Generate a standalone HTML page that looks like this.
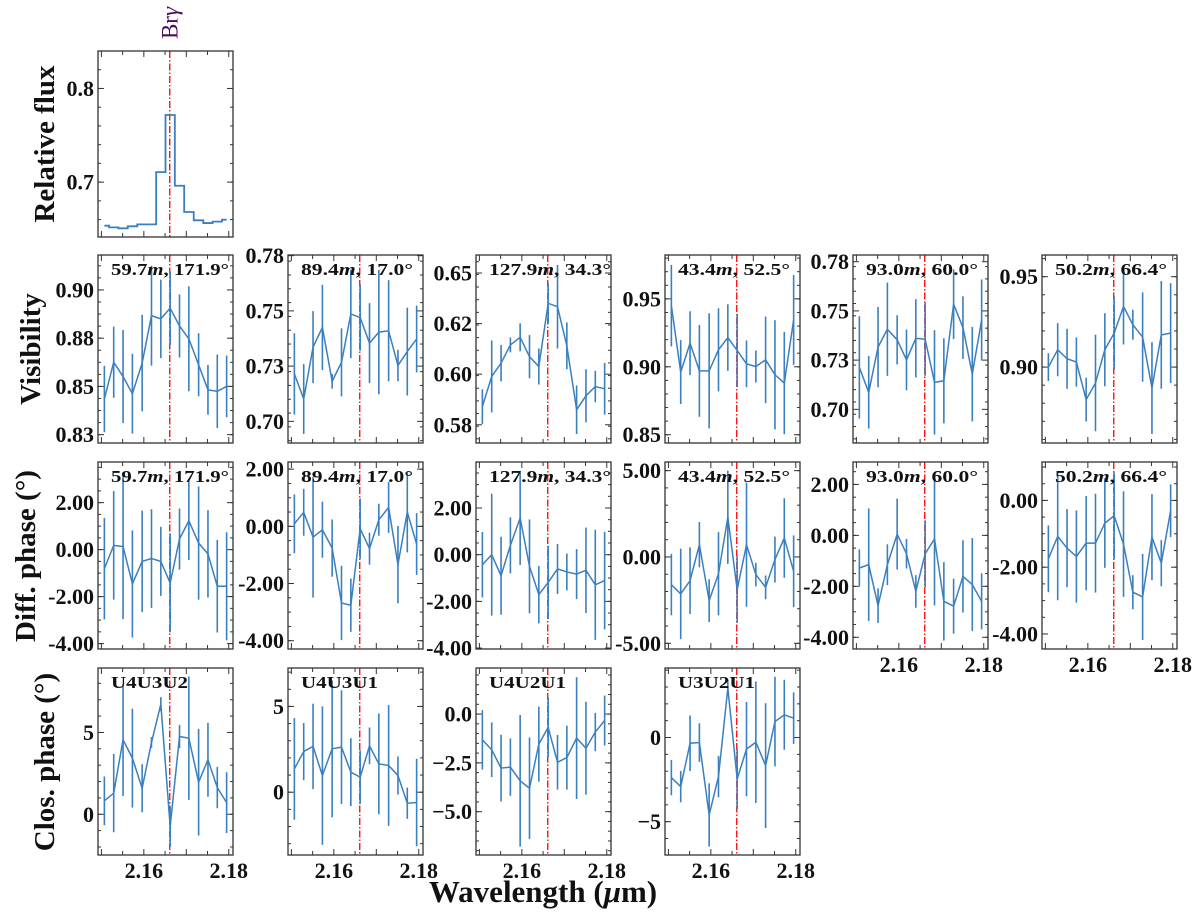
<!DOCTYPE html>
<html><head><meta charset="utf-8"><style>
html,body{margin:0;padding:0;background:#fff;}
svg{display:block;font-family:"Liberation Serif","DejaVu Serif",serif;}
</style></head><body>
<svg id="fig" width="1200" height="913" viewBox="0 0 1200 913" xmlns="http://www.w3.org/2000/svg"></svg>
<script>
const wavelength = [2.1507,2.1529,2.1551,2.1573,2.1596,2.1618,2.1640,2.1662,2.1684,2.1706,2.1729,2.1751,2.1773,2.1795];
const fluxValues = [0.6535,0.6517,0.6507,0.6528,0.6549,0.6549,0.7107,0.7717,0.6961,0.6681,0.6592,0.6563,0.6578,0.6599];

const baselineLengths = ['59.7','89.4','127.9','43.4','93.0','50.2'];
const baselineAngles = ['171.9','17.0','34.3','52.5','60.0','66.4'];
const triangleNames = ['U4U3U2','U4U3U1','U4U2U1','U3U2U1'];

const visValues = [
 [0.8491,0.8663,0.8596,0.8516,0.8659,0.8880,0.8865,0.8915,0.8832,0.8772,0.8651,0.8534,0.8527,0.8550],
 [0.7240,0.7126,0.7361,0.7450,0.7206,0.7292,0.7511,0.7495,0.7379,0.7429,0.7435,0.7278,0.7341,0.7398],
 [0.5881,0.6015,0.6074,0.6155,0.6189,0.6103,0.6059,0.6340,0.6325,0.6151,0.5867,0.5929,0.5970,0.5960],
 [0.945,0.8961,0.9174,0.897,0.897,0.9125,0.9215,0.912,0.9022,0.9002,0.9051,0.8941,0.888,0.9345],
 [0.7238,0.7111,0.7341,0.7432,0.7378,0.7276,0.7386,0.7381,0.7162,0.7170,0.7559,0.7440,0.7204,0.7479],
 [0.9000,0.9096,0.9046,0.9028,0.8820,0.8912,0.9096,0.9188,0.9335,0.9234,0.9166,0.8884,0.9178,0.9188]
];
const visErrors = [
 [0.0155,0.0166,0.0217,0.0186,0.0225,0.0233,0.0183,0.0171,0.0147,0.0245,0.0147,0.0116,0.0171,0.0144],
 [0.0184,0.0158,0.0163,0.0193,0.0033,0.0154,0.0200,0.0150,0.0181,0.0282,0.0229,0.0071,0.0199,0.0151],
 [0.0077,0.0160,0.0081,0.0033,0.0062,0.0096,0.0080,0.0089,0.0186,0.0104,0.0108,0.0118,0.0070,0.0115],
 [0.030,0.0235,0.0235,0.0338,0.0424,0.0306,0.0245,0.027,0.0172,0.0118,0.0319,0.0402,0.0377,0.0331],
 [0.0260,0.0184,0.0204,0.0237,0.0125,0.0154,0.0199,0.0186,0.0265,0.0216,0.0177,0.0159,0.0240,0.0206],
 [0.0077,0.0147,0.0166,0.0136,0.0121,0.0267,0.0202,0.0202,0.0210,0.0083,0.0247,0.0254,0.0298,0.0276]
];
const dpValues = [
 [-0.81,0.18,0.13,-1.46,-0.50,-0.38,-0.50,-1.42,0.45,1.23,0.28,-0.18,-1.56,-1.56],
 [0.09,0.49,-0.38,-0.12,-0.76,-2.68,-2.76,-0.08,-0.78,0.23,0.66,-1.34,0.50,-0.62],
 [-0.43,0.00,-0.90,0.40,1.57,-0.50,-1.71,-1.19,-0.61,-0.74,-0.83,-0.67,-1.29,-1.11],
 [-1.60,-2.14,-1.37,0.71,-2.53,-0.97,2.30,-1.89,0.71,-1.02,-1.76,-0.15,1.10,-0.83],
 [-1.28,-1.15,-2.76,-1.15,0.05,-0.72,-2.20,-0.72,-0.14,-2.59,-2.78,-1.61,-1.93,-2.59],
 [-1.75,-1.08,-1.43,-1.68,-1.28,-1.28,-0.68,-0.46,-1.31,-2.75,-2.89,-1.10,-1.88,-0.31]
];
const dpErrors = [
 [2.16,2.31,3.09,2.28,2.16,2.10,1.47,2.10,1.30,1.67,2.41,1.86,1.97,2.30],
 [1.03,0.82,2.11,0.98,1.00,1.30,0.93,1.05,0.56,0.56,0.89,1.35,1.41,1.08],
 [1.40,2.61,1.67,1.20,2.01,2.01,1.23,1.57,1.07,0.79,1.07,1.83,2.36,2.09],
 [1.78,2.62,1.93,1.31,1.24,2.41,2.70,1.93,3.59,0.69,0.69,1.33,2.30,2.08],
 [0.73,2.21,0.68,0.80,1.39,0.58,0.64,1.31,2.61,1.54,1.08,1.42,1.82,1.10],
 [1.00,1.91,1.17,1.38,1.41,1.48,1.34,1.30,1.58,0.51,1.29,1.29,0.69,0.79]
];
const cpValues = [
 [0.82,1.29,4.55,3.43,1.59,4.39,6.73,-0.75,4.75,4.65,1.96,3.33,1.63,0.71],
 [1.36,2.37,2.67,0.97,2.53,2.63,1.17,0.88,2.70,1.65,1.56,0.97,-0.64,-0.60],
 [-1.32,-1.83,-2.77,-2.72,-3.42,-3.80,-1.54,-0.68,-2.47,-2.23,-1.23,-1.75,-0.92,-0.33],
 [-2.38,-2.92,-0.34,-0.30,-4.60,-2.32,2.94,-2.46,-0.69,-0.28,-1.67,0.95,1.35,1.15]
];
const cpErrors = [
 [1.49,2.39,3.43,3.02,1.47,0.33,0.43,1.22,0.71,3.77,3.26,2.26,1.26,1.86],
 [2.96,1.67,2.49,4.03,3.99,3.31,1.98,1.56,1.07,2.94,3.52,1.11,0.91,2.55],
 [1.52,1.40,1.71,1.47,3.37,2.60,1.92,1.54,1.40,1.64,3.12,2.38,0.98,1.28],
 [1.05,0.93,1.65,1.15,1.88,1.23,0.50,1.79,2.80,3.61,3.71,2.66,2.08,1.53]
];

const brGamma = 2.1661;
const xDomain = [2.1492, 2.1810];
const xTickValues = [2.16, 2.18];
const xTickLabels = ['2.16', '2.18'];

const fluxDomain = [0.6414, 0.840];
const fluxTickValues = [0.7, 0.8];
const fluxTickLabels = ['0.7', '0.8'];

const visDomains = [[0.8286,0.9163],[0.6927,0.7778],[0.5719,0.6555],[0.8439,0.9823],[0.6854,0.7809],[0.858,0.962]];
const visTickValues = [[0.8325,0.855,0.8775,0.9],[0.7025,0.7275,0.7525,0.7775],[0.58,0.6025,0.625,0.6475],[0.85,0.9,0.95],[0.7025,0.7275,0.7525,0.7775],[0.9,0.95]];
const visTickLabels = [['0.83','0.85','0.88','0.90'],['0.70','0.73','0.75','0.78'],['0.58','0.60','0.62','0.65'],['0.85','0.90','0.95'],['0.70','0.73','0.75','0.78'],['0.90','0.95']];

const dpDomains = [[-4.23,3.73],[-4.29,2.25],[-4.04,3.97],[-5.33,5.50],[-4.46,2.88],[-4.45,1.15]];
const dpTickValues = [[-4,-2,0,2],[-4,-2,0,2],[-4,-2,0,2],[-5,0,5],[-4,-2,0,2],[-4,-2,0]];
const dpTickLabels = [['-4.00','-2.00','0.00','2.00'],['-4.00','-2.00','0.00','2.00'],['-4.00','-2.00','0.00','2.00'],['-5.00','0.00','5.00'],['-4.00','-2.00','0.00','2.00'],['-4.00','-2.00','0.00']];

const cpDomains = [[-2.49,8.94],[-3.66,7.24],[-7.22,2.36],[-6.98,4.13]];
const cpTickValues = [[0,5],[0,5],[-5,-2.5,0],[-5,0]];
const cpTickLabels = [['0','5'],['0','5'],['\u22125.0','\u22122.5','0.0'],['\u22125','0']];

const NS = 'http://www.w3.org/2000/svg';
const svg = document.getElementById('fig');
const colLeft = [98, 288, 476, 665, 853, 1042];
const PW = 135;
const BLUE = '#3a7fbf';

function mk(tag, attrs, parent) {
  const e = document.createElementNS(NS, tag);
  for (const k in attrs) e.setAttribute(k, attrs[k]);
  (parent || svg).appendChild(e);
  return e;
}

function panel(name, left, top, height, yDom, yTicks, yLabels, minorStep, showX) {
  const g = mk('g', {});
  
  
  const right = left + PW, bottom = top + height;
  const sx = v => left + (v - xDomain[0]) / (xDomain[1] - xDomain[0]) * PW;
  const sy = v => bottom - (v - yDom[0]) / (yDom[1] - yDom[0]) * height;
  const tk = mk('g', {stroke: '#333', 'stroke-width': 1}, g);
  
  
  for (let v = 2.150; v <= xDomain[1] + 1e-9; v += 0.005) {
    const x = sx(v); const major = Math.abs(((v * 100) % 1)) < 0.01 || Math.abs(((v * 100) % 1) - 1) < 0.01;
    const L = major ? 6 : 4;
    mk('line', {x1: x, x2: x, y1: bottom, y2: bottom - L}, tk);
    mk('line', {x1: x, x2: x, y1: top, y2: top + L}, tk);
  }
  const start = Math.ceil(yDom[0] / minorStep) * minorStep;
  for (let v = start; v <= yDom[1]; v += minorStep) {
    const y = sy(v);
    mk('line', {x1: left, x2: left + 3, y1: y, y2: y}, tk);
    mk('line', {x1: right, x2: right - 3, y1: y, y2: y}, tk);
  }
  yTicks.forEach((v, i) => {
    const y = sy(v);
    if (y < top - 0.5 || y > bottom + 0.5) return;
    mk('line', {x1: left, x2: left + 6, y1: y, y2: y}, tk);
    mk('line', {x1: right, x2: right - 6, y1: y, y2: y}, tk);
    const t = mk('text', {x: left - 4, y: y + 7.5, 'text-anchor': 'end', 'font-size': 22, 'font-weight': 'bold', fill: '#111'}, g);
    
    
    t.textContent = yLabels[i];
  });
  if (showX) {
    xTickValues.forEach((v, i) => {
      const t = mk('text', {x: sx(v), y: bottom + 23, 'text-anchor': 'middle', 'font-size': 22, 'font-weight': 'bold', fill: '#111'}, g);
      
      
      t.textContent = xTickLabels[i];
    });
  }
  const rl = mk('line', {x1: sx(brGamma), x2: sx(brGamma), y1: top, y2: bottom, stroke: '#ff0000', 'stroke-width': 1.3, 'stroke-dasharray': '7,2,1.5,2'}, g);
  
  
  const frame = mk('rect', {x: left, y: top, width: PW, height: height, fill: 'none', stroke: '#333', 'stroke-width': 1.3}, g);
  
  
  return {g, sx, sy, left, top, bottom};
}

function series(p, vals, errs) {
  const eg = mk('g', {stroke: BLUE, 'stroke-width': 1.6}, p.g);
  
  
  vals.forEach((v, i) => {
    const l = mk('line', {x1: p.sx(wavelength[i]), x2: p.sx(wavelength[i]), y1: p.sy(v - errs[i]), y2: p.sy(v + errs[i])}, eg);
    
    
  });
  const pl = mk('polyline', {points: vals.map((v, i) => p.sx(wavelength[i]) + ',' + p.sy(v)).join(' '), fill: 'none', stroke: BLUE, 'stroke-width': 1.5}, p.g);
  
  
}

function note(p, content, len) {
  const t = mk('text', {x: p.left + 13, y: p.top + 20, 'font-size': 17, 'font-weight': 'bold', fill: '#111', textLength: len, lengthAdjust: 'spacingAndGlyphs'}, p.g);
  
  
  t.innerHTML = content;
}

const fp = panel('flux-panel', 98, 51, 186, fluxDomain, fluxTickValues, fluxTickLabels, 0.02, false);
{
  let d = '';
  fluxValues.forEach((v, i) => {
    const x0 = i === 0 ? fp.sx(wavelength[0]) : fp.sx((wavelength[i - 1] + wavelength[i]) / 2);
    const x1 = i === fluxValues.length - 1 ? fp.sx(wavelength[i]) : fp.sx((wavelength[i] + wavelength[i + 1]) / 2);
    d += (i === 0 ? 'M' : 'L') + x0 + ',' + fp.sy(v) + ' L' + x1 + ',' + fp.sy(v) + ' ';
  });
  const s = mk('path', {d: d, fill: 'none', stroke: BLUE, 'stroke-width': 1.8}, fp.g);
  
  
  const br = mk('text', {transform: 'translate(' + (fp.sx(brGamma) + 8) + ',23) rotate(-90)', 'text-anchor': 'middle', 'font-size': 23, fill: '#4a0c5e'}, svg);
  
  
  br.innerHTML = 'Br<tspan font-style="italic">\u03b3</tspan>';
}

const noteLens = [118, 112, 122, 112, 112, 112];
for (let c = 0; c < 6; c++) {
  const p = panel('visibility-panel-' + (c + 1), colLeft[c], 255, 188, visDomains[c], visTickValues[c], visTickLabels[c], (visTickValues[c][1] - visTickValues[c][0]) / ((c === 3 || c === 5) ? 5 : 4), false);
  series(p, visValues[c], visErrors[c]);
  note(p, baselineLengths[c] + '<tspan font-style="italic">m</tspan>, ' + baselineAngles[c] + '\u00b0', noteLens[c]);
}
for (let c = 0; c < 6; c++) {
  const p = panel('diff-phase-panel-' + (c + 1), colLeft[c], 462, 187, dpDomains[c], dpTickValues[c], dpTickLabels[c], c === 3 ? 1 : 0.5, c >= 4);
  series(p, dpValues[c], dpErrors[c]);
  note(p, baselineLengths[c] + '<tspan font-style="italic">m</tspan>, ' + baselineAngles[c] + '\u00b0', noteLens[c]);
}
for (let c = 0; c < 4; c++) {
  const p = panel('closure-phase-panel-' + (c + 1), colLeft[c], 668, 187, cpDomains[c], cpTickValues[c], cpTickLabels[c], c === 2 ? 0.5 : 1, true);
  series(p, cpValues[c], cpErrors[c]);
  note(p, triangleNames[c], 77);
}

function ylab(name, txt, x, y) {
  const t = mk('text', {transform: 'translate(' + x + ',' + y + ') rotate(-90)', 'text-anchor': 'middle', 'font-size': 29, 'font-weight': 'bold', fill: '#111'});
  
  
  t.textContent = txt;
}
ylab('flux-axis-title', 'Relative flux', 54, 144);
ylab('visibility-axis-title', 'Visibility', 40, 349);
ylab('diff-phase-axis-title', 'Diff. phase (\u00b0)', 35, 556);
ylab('closure-phase-axis-title', 'Clos. phase (\u00b0)', 54, 762);
const xl = mk('text', {x: 543, y: 902, 'text-anchor': 'middle', 'font-size': 31, 'font-weight': 'bold', fill: '#111'});


xl.innerHTML = 'Wavelength (<tspan font-style="italic">\u03bc</tspan>m)';
</script>
</body></html>
